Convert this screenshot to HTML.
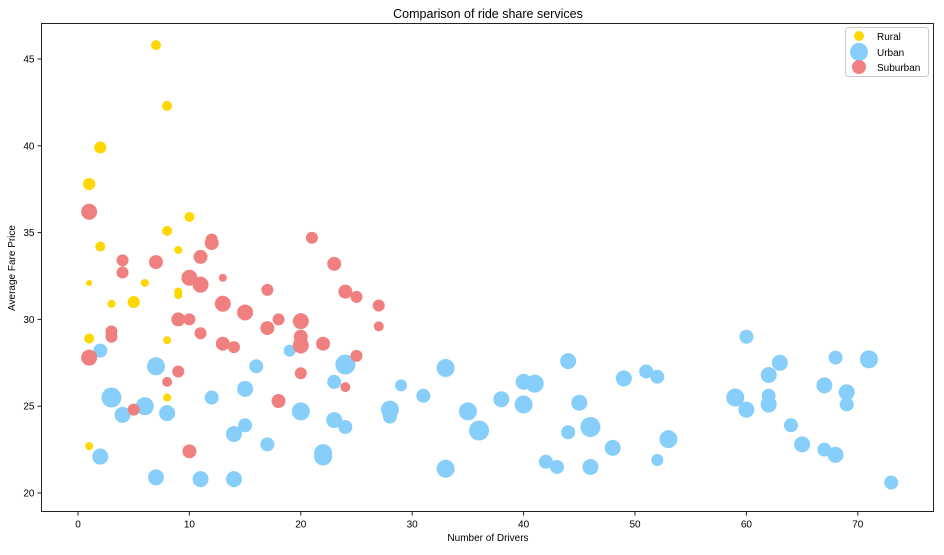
<!DOCTYPE html>
<html><head><meta charset="utf-8"><style>
body{margin:0;background:#fff;font-family:"Liberation Sans",sans-serif}
</style></head><body>
<svg id="chart" width="944" height="550" xmlns="http://www.w3.org/2000/svg" font-family="Liberation Sans, sans-serif">
<text x="488" y="18" text-anchor="middle" font-size="12.5">Comparison of ride share services</text>
<text x="488" y="541" text-anchor="middle" font-size="10">Number of Drivers</text>
<text transform="translate(15,268) rotate(-90)" text-anchor="middle" font-size="10">Average Fare Price</text>
<g id="marks"></g>
<g id="axes"></g>
<rect x="41.5" y="23.5" width="892" height="488" fill="none" stroke="#222" stroke-width="1"/>
<g>
<rect x="845.5" y="27.5" width="83" height="49" rx="3" fill="#fff" stroke="#ccc"/>
<circle cx="859" cy="36" r="5" fill="#FFD700"/>
<text x="877" y="40" font-size="10">Rural</text>
<circle cx="859" cy="52" r="9" fill="#87CEFA"/>
<text x="877" y="56" font-size="10">Urban</text>
<circle cx="859" cy="67" r="7" fill="#F08080"/>
<text x="877" y="71" font-size="10">Suburban</text>
</g>
</svg>
<script>
const xTicks=[0,10,20,30,40,50,60,70];
const yTicks=[20,25,30,35,40,45];
const ruralX=[7,8,2,1,10,8,2,9,1,6,9,9,3,5,1,8,8,1];
const ruralY=[45.8,42.3,39.9,37.8,35.9,35.1,34.2,34.0,32.1,32.1,31.6,31.4,30.9,31.0,28.9,28.8,25.5,22.7];
const ruralSize=[5,5,6,6,5,5,5,4,3,4,4,4,4,6,5,4,4,4];
const urbanX=[2,7,16,19,24,23,3,12,15,6,4,8,20,15,14,23,24,17,22,22,2,7,11,14,29,28,28,31,33,33,35,36,38,40,40,41,42,43,44,44,45,46,46,48,49,51,52,52,53,59,60,60,62,62,62,63,64,65,67,67,68,68,69,69,71,73];
const urbanY=[28.2,27.3,27.3,28.2,27.4,26.4,25.5,25.5,26.0,25.0,24.5,24.6,24.7,23.9,23.4,24.2,23.8,22.8,22.3,22.1,22.1,20.9,20.8,20.8,26.2,24.8,24.4,25.6,27.2,21.4,24.7,23.6,25.4,26.4,25.1,26.3,21.8,21.5,23.5,27.6,25.2,23.8,21.5,22.6,26.6,27.0,26.7,21.9,23.1,25.5,29.0,24.8,26.8,25.6,25.1,27.5,23.9,22.8,26.2,22.5,27.8,22.2,25.8,25.1,27.7,20.6];
const urbanSize=[7,9,7,6,10,7,10,7,8,9,8,8,9,7,8,8,7,7,9,9,8,8,8,8,6,9,7,7,9,9,9,10,8,8,9,9,7,7,7,8,8,10,8,8,8,7,7,6,9,9,7,8,8,7,8,8,7,8,8,7,7,8,8,7,9,7];
const subX=[1,12,12,21,4,4,7,11,23,10,11,13,17,24,25,27,13,15,9,10,18,20,17,3,3,11,27,20,20,22,13,14,1,25,9,20,8,24,18,5,10];
const subY=[36.2,34.6,34.4,34.7,33.4,32.7,33.3,33.6,33.2,32.4,32.0,32.4,31.7,31.6,31.3,30.8,30.9,30.4,30.0,30.0,30.0,29.9,29.5,29.3,29.0,29.2,29.6,29.0,28.5,28.6,28.6,28.4,27.8,27.9,27.0,26.9,26.4,26.1,25.3,24.8,22.4];
const subSize=[8,6,7,6,6,6,7,7,7,8,8,4,6,7,6,6,8,8,7,6,6,8,7,6,6,6,5,7,8,7,7,6,8,6,6,6,5,5,7,6,7];

const L=41.5,R=933.5,T=23.5,B=511.5;
function xScale(v){return 78+v*11.14;}
function yScale(v){return 493-(v-20)*17.36;}
function rScale(s){return s;}
const NS="http://www.w3.org/2000/svg";
const marks=document.getElementById('marks'), axes=document.getElementById('axes');
function series(xs,ys,ss,color,name){
  const g=document.createElementNS(NS,'g');
  
  
  for(let i=0;i<xs.length;i++){
    const c=document.createElementNS(NS,'circle');
    c.setAttribute('cx',xScale(xs[i]));c.setAttribute('cy',yScale(ys[i]));
    c.setAttribute('r',rScale(ss[i]));c.setAttribute('fill',color);
    
    
    g.appendChild(c);
  }
  marks.appendChild(g);
}
series(ruralX,ruralY,ruralSize,'#FFD700','rural');
series(urbanX,urbanY,urbanSize,'#87CEFA','urban');
series(subX,subY,subSize,'#F08080','suburban');
xTicks.forEach(t=>{
  const x=xScale(t);
  const l=document.createElementNS(NS,'line');
  l.setAttribute('x1',x);l.setAttribute('x2',x);l.setAttribute('y1',B);l.setAttribute('y2',B+4);l.setAttribute('stroke','#222');
  
  
  axes.appendChild(l);
  const tx=document.createElementNS(NS,'text');
  tx.setAttribute('x',x);tx.setAttribute('y',B+16);tx.setAttribute('text-anchor','middle');tx.setAttribute('font-size','10');
  tx.textContent=t;
  
  
  axes.appendChild(tx);
});
yTicks.forEach(t=>{
  const y=yScale(t);
  const l=document.createElementNS(NS,'line');
  l.setAttribute('x1',L-4);l.setAttribute('x2',L);l.setAttribute('y1',y);l.setAttribute('y2',y);l.setAttribute('stroke','#222');
  
  
  axes.appendChild(l);
  const tx=document.createElementNS(NS,'text');
  tx.setAttribute('x',L-7);tx.setAttribute('y',y+3.5);tx.setAttribute('text-anchor','end');tx.setAttribute('font-size','10');
  tx.textContent=t;
  
  
  axes.appendChild(tx);
});
</script>
</body></html>
